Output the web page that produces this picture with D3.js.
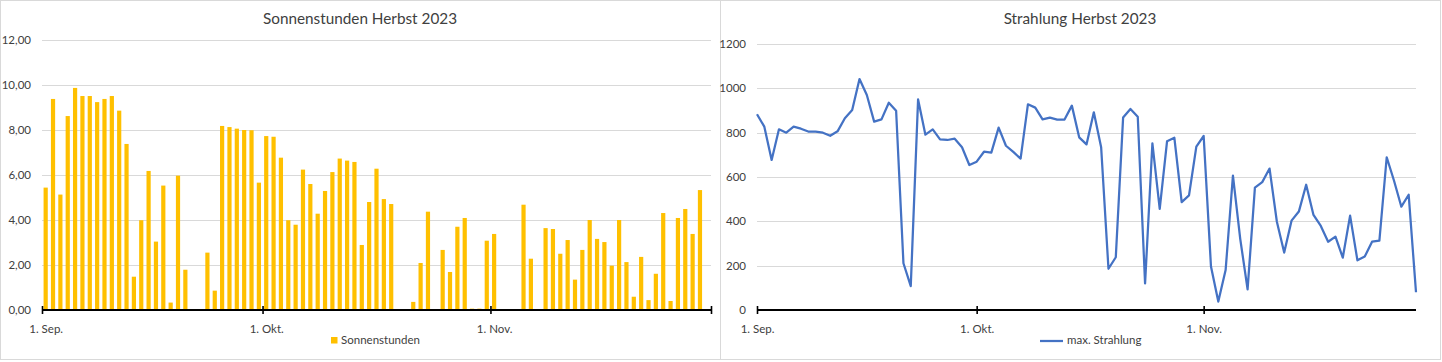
<!DOCTYPE html>
<html>
<head>
<meta charset="utf-8">
<script src="https://cdn.jsdelivr.net/npm/d3@7"></script>
<style>
  body { margin: 0; background: #fff; }
  svg { display: block; }
  text { font-family: Lato, "Liberation Sans", sans-serif; fill: #404040; }
</style>
</head>
<body>
<svg id="canvas" width="1442" height="362"></svg>
<script>
// Tage 1. Sep. - 30. Nov. 2023
var startDay = new Date(2023, 8, 1);
var endDay = new Date(2023, 11, 1);
var days = d3.timeDay.range(startDay, endDay);

var monthTicks = [new Date(2023, 8, 1), new Date(2023, 9, 1), new Date(2023, 10, 1)];
var monthLabels = ["1. Sep.", "1. Okt.", "1. Nov."];

var sonnenTicks = [0, 2, 4, 6, 8, 10, 12];
var strahlungTicks = [0, 200, 400, 600, 800, 1000, 1200];

var sonnenstunden = [
  5.44, 9.38, 5.13, 8.62, 9.87, 9.51, 9.51, 9.24, 9.38, 9.51,
  8.86, 7.38, 1.48, 3.99, 6.18, 3.04, 5.53, 0.33, 5.97, 1.79,
  0, 0, 2.55, 0.86, 8.18, 8.13, 8.06, 8.00, 7.99, 5.66,
  7.73, 7.70, 6.77, 3.99, 3.79, 6.24, 5.60, 4.28, 5.29, 6.13,
  6.73, 6.64, 6.58, 2.89, 4.80, 6.28, 4.93, 4.71, 0, 0,
  0.36, 2.09, 4.37, 0, 2.67, 1.69, 3.70, 4.09, 0.06, 0.06, 3.08,
  3.38, 0, 0, 0, 4.68, 2.28, 0, 3.64, 3.60, 2.50,
  3.11, 1.35, 2.67, 4.00, 3.16, 3.02, 1.97, 4.00, 2.13, 0.59,
  2.36, 0.44, 1.61, 4.31, 0.40, 4.09, 4.49, 3.38, 5.33, 0
];

var strahlung = [
  883, 827, 677, 815, 800, 827, 818, 805, 805, 800,
  786, 806, 865, 902, 1042, 970, 850, 860, 935, 899,
  211, 108, 950, 791, 815, 770, 767, 773, 734, 654,
  669, 714, 710, 823, 741, 713, 683, 928, 913, 860,
  868, 859, 859, 922, 779, 747, 892, 734, 186, 238,
  868, 907, 872, 120, 752, 456, 761, 777, 487, 517, 737,
  785, 196, 38, 180, 606, 320, 93, 552, 577, 638,
  398, 259, 403, 444, 565, 429, 379, 308, 331, 236,
  426, 224, 241, 308, 313, 689, 583, 466, 520, 80
];

var svg = d3.select("#canvas");
var gridColor = "#d9d9d9";

// Rahmen der beiden Diagramme
svg.append("rect").attr("x", 0.5).attr("y", 0.5).attr("width", 720).attr("height", 359)
  .attr("fill", "none").attr("stroke", gridColor);
svg.append("rect").attr("x", 720.5).attr("y", 0.5).attr("width", 720).attr("height", 359)
  .attr("fill", "none").attr("stroke", gridColor);

function monthLabel(d) {
  for (var i = 0; i < monthTicks.length; i++) {
    if (+monthTicks[i] == +d) return monthLabels[i];
  }
  return "";
}

function drawAxes(g, x, y, yTicks, yFormat, tickVals, labelShift) {
  // Gitterlinien
  g.append("g").selectAll("line")
    .data(yTicks.filter(function(t) { return t > 0; }))
    .enter().append("line")
    .attr("x1", x.range()[0]).attr("x2", x.range()[1])
    .attr("y1", function(d) { return Math.round(y(d)) + 0.5; })
    .attr("y2", function(d) { return Math.round(y(d)) + 0.5; })
    .attr("stroke", gridColor).attr("stroke-width", 1);

  // y-Beschriftung
  g.append("g").selectAll("text")
    .data(yTicks)
    .enter().append("text")
    .attr("x", x.range()[0] - 11)
    .attr("y", function(d) { return y(d); })
    .attr("dy", "0.35em")
    .attr("text-anchor", "end")
    .style("font-size", "11.5px")
    .text(yFormat);

  // x-Achse
  var axis = g.append("g")
    .attr("class", "xaxis")
    .attr("transform", "translate(0," + y(0) + ")")
    .call(d3.axisBottom(x).tickValues(tickVals).tickSize(4).tickFormat(monthLabel));
  axis.select(".domain").attr("stroke", "#000").attr("stroke-width", 2.2)
    .attr("d", "M" + x.range()[0] + ",0H" + x.range()[1]);
  axis.selectAll(".tick line").attr("stroke", "#000").attr("stroke-width", 1.6)
    .attr("y1", -4).attr("y2", 4);
  axis.selectAll(".tick text")
    .attr("y", 15).attr("dx", labelShift)
    .style("font-size", "11.5px").style("font-family", "Lato, sans-serif").attr("fill", "#404040");
}

// ---------- Sonnenstunden ----------
var left = svg.append("g");
var xL = d3.scaleTime().domain([startDay, endDay]).range([42, 711]);
var yL = d3.scaleLinear().domain([0, 12]).range([310, 40]);
var step = xL(days[1]) - xL(days[0]);

drawAxes(left, xL, yL, sonnenTicks, function(d) { return d3.format(".2f")(d).replace(".", ","); },
  monthTicks.concat([endDay]), step / 2);

left.append("g").selectAll("rect")
  .data(days)
  .enter().append("rect")
  .attr("x", function(d) { return xL(d) + step / 2 - 2.1; })
  .attr("width", 4.2)
  .attr("y", function(d, i) { return yL(sonnenstunden[i]); })
  .attr("height", function(d, i) { return yL(0) - yL(sonnenstunden[i]); })
  .attr("fill", "#FFC000");

// Achse über die Balken legen
left.select(".xaxis").raise();

left.append("text").attr("x", 360).attr("y", 24).attr("text-anchor", "middle")
  .style("font-size", "15.3px").attr("fill", "#595959").text("Sonnenstunden Herbst 2023");

left.append("rect").attr("x", 331).attr("y", 337).attr("width", 6.5).attr("height", 6.5).attr("fill", "#FFC000");
left.append("text").attr("x", 341).attr("y", 340).attr("dy", "0.35em")
  .style("font-size", "11.5px").text("Sonnenstunden");

// ---------- Strahlung ----------
var right = svg.append("g");
var xR = d3.scaleTime().domain([startDay, days[days.length - 1]]).range([757, 1416]);
var yR = d3.scaleLinear().domain([0, 1200]).range([310, 44]);

drawAxes(right, xR, yR, strahlungTicks, function(d) { return d; }, monthTicks, 0);

var line = d3.line()
  .x(function(d) { return xR(d); })
  .y(function(d, i) { return yR(strahlung[i]); });

right.append("path")
  .datum(days)
  .attr("d", line)
  .attr("fill", "none")
  .attr("stroke", "#4472C4")
  .attr("stroke-width", 2.25)
  .attr("stroke-linejoin", "round");

right.append("text").attr("x", 1080).attr("y", 24).attr("text-anchor", "middle")
  .style("font-size", "15.3px").attr("fill", "#595959").text("Strahlung Herbst 2023");

right.append("line").attr("x1", 1040).attr("x2", 1063).attr("y1", 341).attr("y2", 341)
  .attr("stroke", "#4472C4").attr("stroke-width", 2.25);
right.append("text").attr("x", 1067).attr("y", 340).attr("dy", "0.35em")
  .style("font-size", "11.5px").text("max. Strahlung");
</script>
</body>
</html>
